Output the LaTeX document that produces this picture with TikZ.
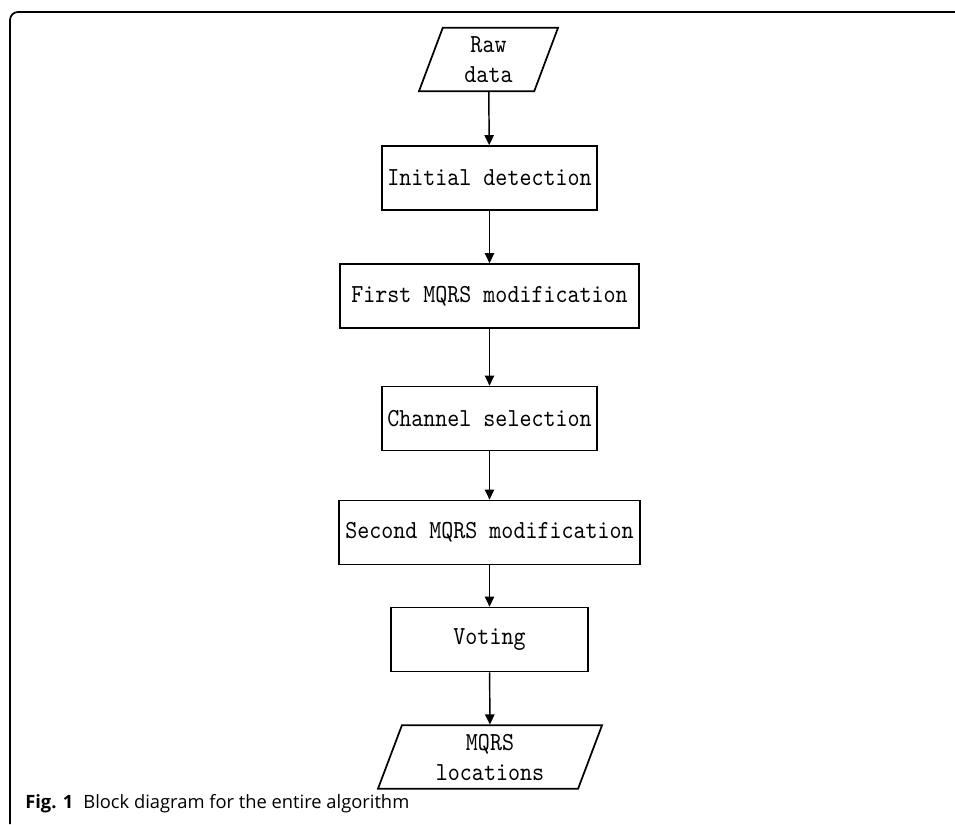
\documentclass[tikz,border=0pt]{standalone}
\usepackage{fontspec}
\setsansfont{Open Sans}
\newfontfamily\boxfamily{lmmono10-regular.otf}[FakeStretch=0.88]
\usetikzlibrary{arrows.meta}
\usetikzlibrary{shapes}
\usetikzlibrary{positioning}

\newcommand{\boxfont}{\boxfamily\fontsize{19.5}{22.5}\selectfont}

\tikzset{
	block/.style={draw, line width=1.3pt, minimum height=48pt, inner sep=1pt,
		font=\boxfont},
	iobox/.style={draw, line width=1.3pt, trapezium, trapezium left angle=64,
		trapezium right angle=116, trapezium stretches body, minimum height=47.5pt,
		inner sep=1pt, align=center, font=\boxfont},
	flow/.style={-{Triangle[length=7.5pt,width=7pt]}, line width=1.1pt}
}

\begin{document}
\begin{tikzpicture}[x=0.75pt,y=-0.75pt]
		\useasboundingbox (0,0) rectangle (955,824);
		\draw[line width=1.3pt, rounded corners=6pt] (10,824) -- (10,12) -- (955,12);
		
		\node[iobox, minimum width=104.25pt] (raw) at (488.5,59.5) {Raw\\data};
		\node[block, minimum width=161.25pt] (init) at (489.5,178) {Initial detection};
		\node[block, minimum width=224.25pt] (first) at (489.5,296) {First MQRS modification};
		\node[block, minimum width=161.25pt] (chan) at (489.5,418.5) {Channel selection};
		\node[block, minimum width=225.75pt] (second) at (489.5,532.5) {Second MQRS modification};
		\node[block, minimum width=147.75pt] (vote) at (489.5,639.5) {Voting};
		\node[iobox, minimum width=168pt] (loc) at (490,757) {MQRS\\locations};
		
		\draw[flow] (raw) -- (init);
		\draw[flow] (init) -- (first);
		\draw[flow] (first) -- (chan);
		\draw[flow] (chan) -- (second);
		\draw[flow] (second) -- (vote);
		\draw[flow] (vote) -- (loc);
		
		\node[anchor=base west, inner sep=0pt, font=\sffamily\fontsize{13.75}{16}\selectfont] (cap) at (25,808)
			{\textbf{Fig. 1}\hspace{0.55em}Block diagram for the entire algorithm};
\end{tikzpicture}
\end{document}
